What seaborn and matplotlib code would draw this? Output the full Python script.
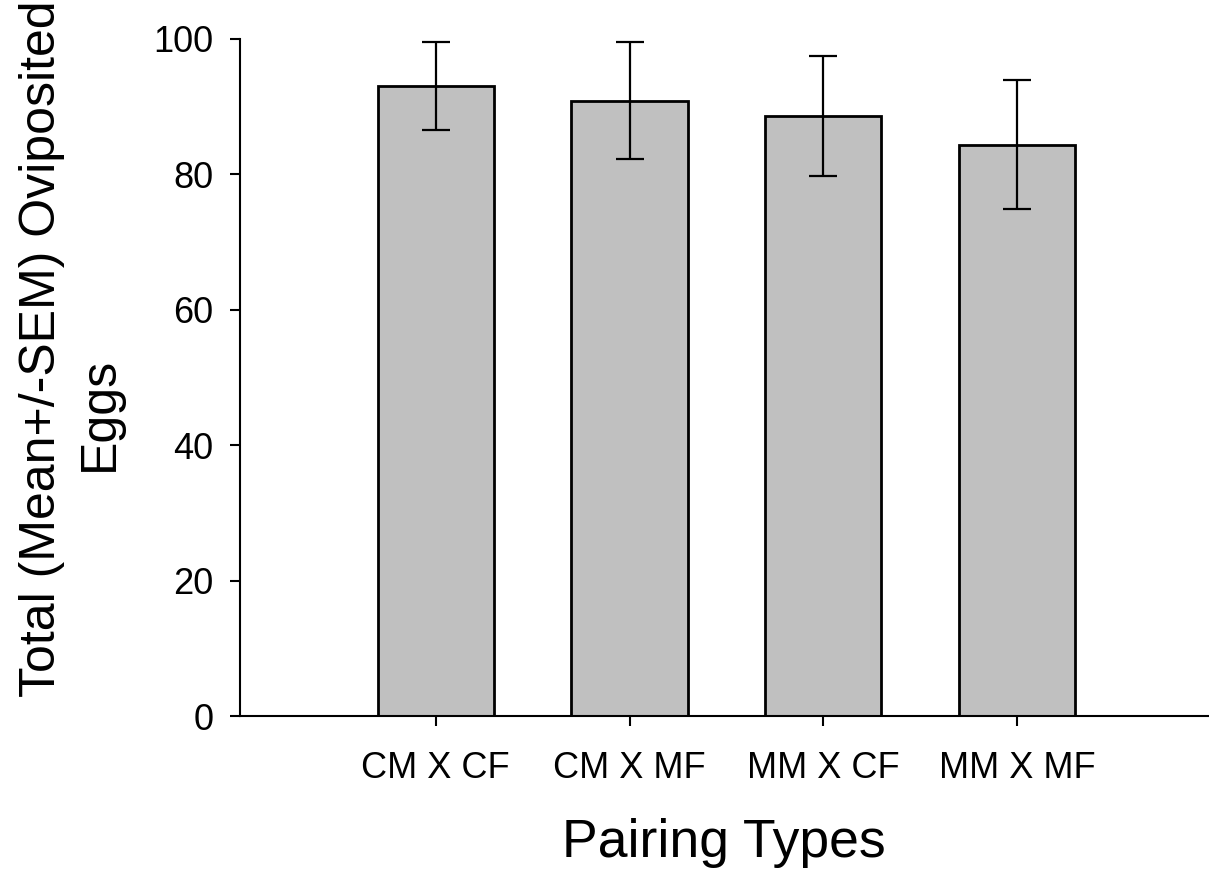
import matplotlib
matplotlib.use("Agg")
import matplotlib.pyplot as plt
import seaborn as sns
import pandas as pd

categories = ["CM X CF", "CM X MF", "MM X CF", "MM X MF"]
means = [93.0, 90.9, 88.6, 84.4]
sems = [6.5, 8.6, 8.9, 9.5]
yticks = [0, 20, 40, 60, 80, 100]

sns.set_theme(style="ticks")
plt.rcParams["font.family"] = ["Liberation Sans", "DejaVu Sans"]

df = pd.DataFrame({"Pairing": categories, "Eggs": means, "SEM": sems})

fig = plt.figure(figsize=(12.09, 8.71), dpi=100)
ax = fig.add_axes([240 / 1209, 155 / 871, 969 / 1209, 677 / 871])

sns.barplot(data=df, x="Pairing", y="Eggs", order=categories, errorbar=None,
            color="#C0C0C0", saturation=1, width=0.6, edgecolor="black",
            linewidth=2.0, ax=ax, zorder=2)
ax.errorbar(range(len(categories)), df["Eggs"], yerr=df["SEM"], fmt="none",
            ecolor="black", elinewidth=1.6, capsize=10, capthick=1.6, zorder=3)

ax.set_xlim(-1.01, 3.99)
ax.set_ylim(0, 100)
ax.set_yticks(yticks)
ax.set_yticklabels([str(v) for v in yticks])

sns.despine(ax=ax)
for s in ["left", "bottom"]:
    ax.spines[s].set_linewidth(1.5)
    ax.spines[s].set_color("black")

ax.tick_params(axis="y", length=7.2, width=1.5, pad=12, labelsize=26, colors="black")
ax.tick_params(axis="x", length=7.2, width=1.5, pad=18, labelsize=26, colors="black")

ax.set_xlabel("Pairing Types", fontsize=38.5, color="black", va="center")
ax.xaxis.set_label_coords(0.499, -0.1876)
ax.set_ylabel("Total (Mean+/-SEM) Oviposited", fontsize=36, color="black", va="center")
ax.yaxis.set_label_coords(-0.2042, 0.542)
ax.text(-0.1445, 0.446, "Eggs", transform=ax.transAxes, rotation=90,
        rotation_mode="anchor", ha="center", va="center", fontsize=36, color="black")

fig.savefig("out.png", dpi=100)
